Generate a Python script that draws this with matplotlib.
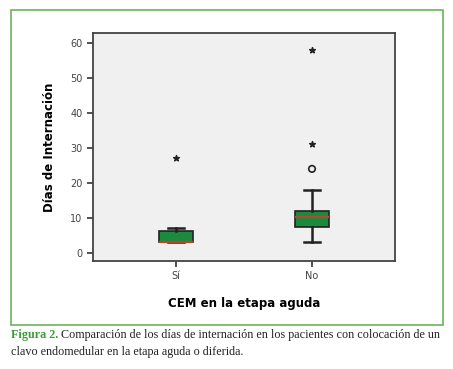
import matplotlib.pyplot as plt
from matplotlib.patches import Rectangle

# Boxplot summary
groups = ['Sí', 'No']
q1 = [3, 7.3]
median = [3, 10.3]
q3 = [6.3, 12]
whislo = [3, 3]
whishi = [7, 18]
stars = [[27], [58, 31]]
circles = [[], [24]]
yticks = [0, 10, 20, 30, 40, 50, 60]

fig = plt.figure(figsize=(4.53, 3.69), dpi=100)
fig.patch.set_facecolor('white')

# green frame round the chart
fig.patches.append(Rectangle((0.024, 0.119), 0.954, 0.854, transform=fig.transFigure,
                             fill=False, edgecolor='#6cb35a', linewidth=1.2))

ax = fig.add_axes([0.205, 0.293, 0.667, 0.618])
ax.set_facecolor('#f0f0f0')

stats = []
for i in range(len(groups)):
    stats.append(dict(q1=q1[i], med=median[i], q3=q3[i], whislo=whislo[i],
                      whishi=whishi[i], fliers=[], label=groups[i]))

ax.bxp(stats, positions=[1, 2], widths=0.25, patch_artist=True, showfliers=False,
       boxprops=dict(facecolor='#1c8a3c', edgecolor='#222222', linewidth=1.2),
       medianprops=dict(color='#b5472e', linewidth=1.6),
       whiskerprops=dict(color='#222222', linewidth=1.8),
       capprops=dict(color='#222222', linewidth=1.8), capwidths=0.12)

# extreme values (stars) and outliers (circles)
for i in range(len(groups)):
    ax.scatter([i + 1] * len(stars[i]), stars[i], marker='*', s=18, color='#222222', zorder=3)
    ax.scatter([i + 1] * len(circles[i]), circles[i], marker='o', s=22, facecolor='none',
               edgecolor='#222222', linewidth=1.2, zorder=3)

ax.set_xlim(0.39, 2.61)
ax.set_ylim(-2.3, 62.9)
ax.set_yticks(yticks)
ax.set_yticklabels([str(v) for v in yticks], fontsize=7, color='#444444')
ax.set_xticks([1, 2])
ax.set_xticklabels(groups, fontsize=7, color='#444444')
ax.tick_params(direction='out', length=4, width=1.2, color='#333333')
for side in ['left', 'bottom', 'top', 'right']:
    ax.spines[side].set_color('#444444')
    ax.spines[side].set_linewidth(1.3)

ax.set_ylabel('Días de Internación', fontsize=8.5, fontweight='bold', labelpad=10)
ax.set_xlabel('CEM en la etapa aguda', fontsize=8.5, fontweight='bold', labelpad=11)

# caption under the frame
cap = fig.text(0.024, 0.092, 'Figura 2.', fontsize=8.7, fontweight='bold', color='#3d9a3a',
               family='Liberation Serif', va='center')
ax.annotate(' Comparación de los días de internación en los pacientes con colocación de un',
            xy=(1, 0.5), xycoords=cap, va='center', ha='left',
            fontsize=8.7, family='Liberation Serif', color='#222222', annotation_clip=False)
fig.text(0.024, 0.045, 'clavo endomedular en la etapa aguda o diferida.',
         fontsize=8.7, family='Liberation Serif', va='center', color='#222222')

fig.savefig('out.png', dpi=100)
